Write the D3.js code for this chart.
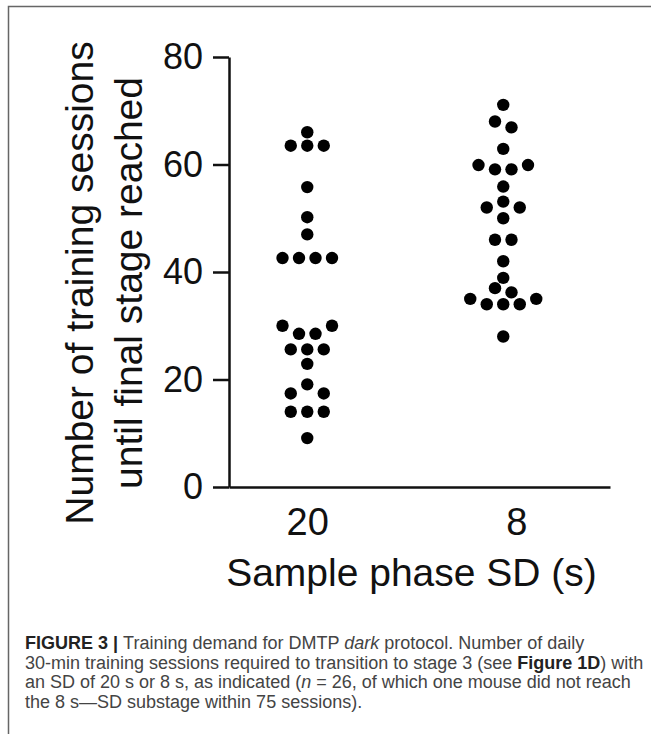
<!DOCTYPE html>
<html lang="en">
<head>
<meta charset="UTF-8">
<title>Training demand for DMTP dark protocol</title>
<style>
    body, html {
        margin: 0;
        padding: 0;
        background-color: #fff;
    }
    #svg {
        display: block;
        font-family: "Liberation Sans", Arial, Helvetica, sans-serif;
    }
    .axis path, .axis line {
        stroke: #111;
        stroke-width: 2.5px;
    }
    .axis text {
        fill: #111;
    }
    .caption {
        fill: #444;
        font-size: 18px;
    }
</style>
</head>
<body>
<svg id="svg" width="651" height="734"></svg>
<script src="https://d3js.org/d3.v7.min.js"></script>
<script>
    // categories: sample phase SD (s)
    const groups = ['20', '8']
    // sessions until final stage, one value per mouse (listed in swarm fill order)
    const sessions20 = [66.0, 63.5, 63.5, 63.5, 55.8, 50.2, 47.0, 42.6, 42.6, 42.6, 42.6,
        28.5, 28.5, 30.0, 30.0, 25.6, 25.6, 25.6, 22.9, 19.1, 17.4, 17.4, 14.0, 14.0, 14.0, 9.1]
    const sessions8 = [71.1, 68.0, 66.9, 62.9, 59.1, 59.1, 59.9, 59.9, 55.9, 53.1, 52.0, 52.0,
        50.0, 46.0, 46.0, 42.0, 38.9, 37.0, 36.2, 34.0, 34.0, 34.0, 35.0, 35.0, 28.0]
    const yTicks = [0, 20, 40, 60, 80]

    const svg = d3.select('#svg')

    // figure frame (panel border of the journal layout)
    svg.append('rect')
        .attr('x', 8.5).attr('y', 6.5)
        .attr('width', 700).attr('height', 800)
        .attr('fill', 'none')
        .attr('stroke', '#666')
        .attr('stroke-width', 1.5)

    // scales
    const y = d3.scaleLinear()
        .domain([0, 80])
        .range([487, 57])

    const x = d3.scalePoint()
        .domain(groups)
        .range([229, 610])
        .padding(0.472)
        .align(0.423)

    // simple beeswarm: near-equal values share a row and spread out symmetrically,
    // each row is pushed outwards until it clears the dots already placed
    function swarm(values, half, minDist, tol) {
        const bins = []
        values.forEach(v => {
            const bin = bins.find(b => Math.abs(b[0] - v) <= tol)
            bin ? bin.push(v) : bins.push([v])
        })
        const placed = []
        const free = (dx, v) => placed.every(p =>
            Math.hypot(p.dx - dx, y(p.value) - y(v)) >= minDist)
        bins.forEach(bin => {
            let i = 0
            let k = 1
            if (bin.length % 2) {
                let s = 0
                while (!free(s * half, bin[0])) s = s <= 0 ? 1 - s : -s
                placed.push({ value: bin[0], dx: s * half })
                i = 1
                k = 2
            }
            for (; i < bin.length; i += 2) {
                const a = bin[i], b = bin[i + 1]
                while (!(free(-k * half, a) && (b === undefined || free(k * half, b)))) k++
                placed.push({ value: a, dx: -k * half })
                if (b !== undefined) placed.push({ value: b, dx: k * half })
                k += 2
            }
        })
        return placed
    }

    const points = []
    ;[sessions20, sessions8].forEach((vals, gi) => {
        swarm(vals, 8.25, 12.5, 1.15).forEach(p => points.push({ group: groups[gi], ...p }))
    })

    // dots
    svg.append('g')
        .selectAll('circle')
        .data(points)
        .enter()
        .append('circle')
        .attr('cx', d => x(d.group) + d.dx)
        .attr('cy', d => y(d.value))
        .attr('r', 6.2)
        .attr('fill', '#000')

    // y axis
    const leftAxis = d3.axisLeft(y)
        .tickValues(yTicks)
        .tickSize(16)
        .tickSizeOuter(0)
        .tickPadding(10)
    svg.append('g')
        .attr('class', 'axis')
        .attr('transform', 'translate(229, 0)')
        .call(leftAxis)
        .call(g => g.selectAll('text').attr('font-size', '36px').attr('font-family', null))

    // x axis
    const labelNudge = { '8': 13 }
    const bottomAxis = d3.axisBottom(x)
        .tickSize(0)
        .tickSizeOuter(0)
        .tickPadding(21)
    svg.append('g')
        .attr('class', 'axis')
        .attr('transform', 'translate(0, 487)')
        .call(bottomAxis)
        .call(g => g.selectAll('text')
            .attr('font-size', '38px')
            .attr('font-family', null)
            .attr('dx', d => labelNudge[d] || 0))

    // axis titles
    svg.append('text')
        .attr('x', 411.5).attr('y', 586)
        .attr('text-anchor', 'middle')
        .attr('font-size', '39px')
        .attr('fill', '#111')
        .text('Sample phase SD (s)')

    const yTitle = ['Number of training sessions', 'until final stage reached']
    svg.selectAll('.ytitle')
        .data(yTitle)
        .enter()
        .append('text')
        .attr('class', 'ytitle')
        .attr('transform', (d, i) => `translate(${93 + i * 49}, 283) rotate(-90)`)
        .attr('text-anchor', 'middle')
        .attr('font-size', '39px')
        .attr('fill', '#111')
        .text(d => d)

    // caption
    const caption = svg.append('text').attr('class', 'caption')
    const lines = [
        [['FIGURE 3', 'b'], [' | ', 'b'], ['Training demand for DMTP '], ['dark', 'i'], [' protocol. Number of daily']],
        [['30-min training sessions required to transition to stage 3 (see '], ['Figure 1D', 'b'], [') with']],
        [['an SD of 20 s or 8 s, as indicated ('], ['n', 'i'], [' = 26, of which one mouse did not reach']],
        [['the 8 s\u2014SD substage within 75 sessions).']]
    ]
    lines.forEach((parts, li) => {
        parts.forEach(([t, style], pi) => {
            const ts = caption.append('tspan').text(t)
            if (pi === 0) ts.attr('x', 25).attr('y', 649 + li * 19.6)
            if (style === 'b') ts.attr('font-weight', 'bold').attr('fill', '#222')
            if (style === 'i') ts.attr('font-style', 'italic')
        })
    })
</script>
</body>
</html>
